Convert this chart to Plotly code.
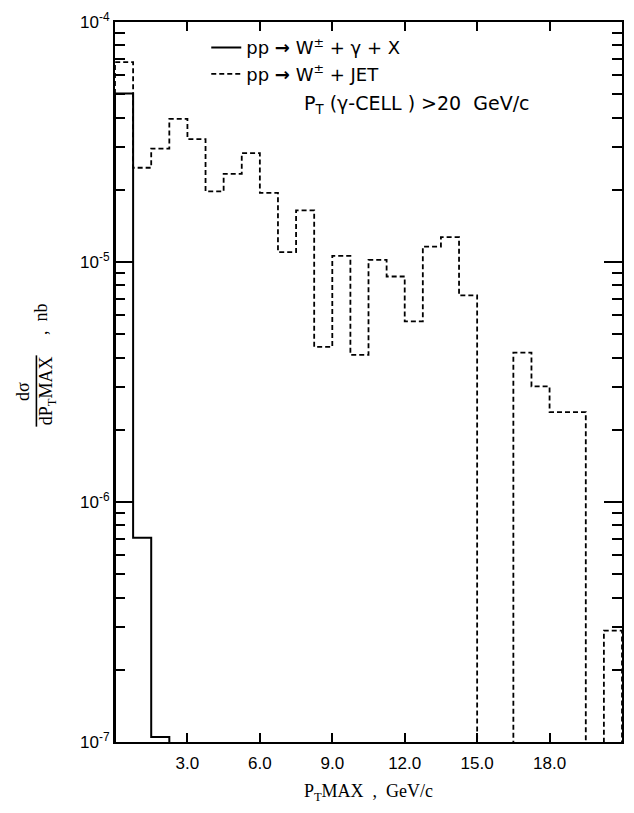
import numpy as np
import plotly.graph_objects as go

# Histogram binning in P_T MAX (GeV/c)
BIN_WIDTH = 0.75
N_BINS = 28
bin_edges = np.round(np.arange(N_BINS + 1) * BIN_WIDTH, 4)

# dσ/dP_T MAX (nb) per bin; 0 means an empty bin
w_gamma_x = [5.03e-5, 7.1e-7, 1.05e-7] + [0.0] * 25
w_jet = [6.8e-5, 2.47e-5, 2.97e-5, 3.95e-5, 3.25e-5, 1.97e-5, 2.33e-5,
         2.84e-5, 1.94e-5, 1.10e-5, 1.64e-5, 4.43e-6, 1.06e-5, 4.1e-6,
         1.02e-5, 8.7e-6, 5.66e-6, 1.16e-5, 1.27e-5, 7.26e-6, 0.0, 0.0,
         4.19e-6, 3.03e-6, 2.37e-6, 2.37e-6, 0.0, 2.91e-7]

x_ticks = [3.0, 6.0, 9.0, 12.0, 15.0, 18.0]
x_tick_text = ["3.0", "6.0", "9.0", "12.0", "15.0", "18.0"]
y_ticks = [1e-7, 1e-6, 1e-5, 1e-4]
y_tick_text = ["10<sup>-7</sup>", "10<sup>-6</sup>", "10<sup>-5</sup>", "10<sup>-4</sup>"]
y_minor = [m * 10.0 ** e for e in (-7, -6, -5) for m in range(2, 10)]

FLOOR = 1e-9  # empty bins are drawn below the visible range (clipped)


def step_xy(values):
    ys = [FLOOR] + [v if v > 0 else FLOOR for v in values] + [FLOOR]
    xs = [bin_edges[0]] + list(bin_edges)
    return xs, ys


SANS = "DejaVu Sans"
TICK = "Liberation Sans"
SERIF = "Liberation Serif"
ARROW = "<b>\u2192</b>"

fig = go.Figure()
xs, ys = step_xy(w_gamma_x)
fig.add_trace(go.Scatter(x=xs, y=ys, mode="lines", line_shape="hv",
                         line=dict(color="black", width=2),
                         name=f"pp {ARROW} W<sup>\u00b1</sup> + \u03b3 + X"))
xs, ys = step_xy(w_jet)
fig.add_trace(go.Scatter(x=xs, y=ys, mode="lines", line_shape="hv",
                         line=dict(color="black", width=1.8, dash="5px,3px"),
                         name=f"pp {ARROW} W<sup>\u00b1</sup> + JET"))

axis_common = dict(showline=True, linecolor="black", linewidth=2, mirror="ticks",
                   ticks="inside", tickcolor="black", showgrid=False, zeroline=False)

fig.update_xaxes(range=[0, 21], tickvals=x_ticks, ticktext=x_tick_text,
                 ticklen=9, tickwidth=1.5, ticklabelstandoff=5,
                 tickfont=dict(family=TICK, size=17, color="black"),
                 title=dict(text="P<sub>T</sub>MAX  ,  GeV/c",
                            font=dict(family=SERIF, size=18, color="black"),
                            standoff=12),
                 **axis_common)
fig.update_yaxes(type="log", range=[-7, -4], tickvals=y_ticks, ticktext=y_tick_text,
                 ticklen=18, tickwidth=2,
                 tickfont=dict(family=TICK, size=17, color="black"),
                 minor=dict(tickmode="array", tickvals=y_minor, ticks="inside",
                            ticklen=10, tickwidth=1.5, tickcolor="black", showgrid=False),
                 **axis_common)

# y-axis title drawn as a rotated fraction
title_font = dict(family=SERIF, size=18, color="black")
fig.add_annotation(text="d\u03c3", xref="paper", yref="paper", x=-0.18, y=0.487,
                   xanchor="center", yanchor="middle", textangle=-90,
                   showarrow=False, font=title_font)
fig.add_shape(type="line", xref="paper", yref="paper", x0=-0.155, x1=-0.155,
              y0=0.438, y1=0.537, line=dict(color="black", width=1.6))
fig.add_annotation(text="dP<sub>T</sub>MAX", xref="paper", yref="paper", x=-0.133, y=0.488,
                   xanchor="center", yanchor="middle", textangle=-90,
                   showarrow=False, font=title_font)
fig.add_annotation(text=",  nb", xref="paper", yref="paper", x=-0.147, y=0.588,
                   xanchor="center", yanchor="middle", textangle=-90,
                   showarrow=False, font=title_font)

# cut annotation below the legend
fig.add_annotation(text="P<sub>T</sub> (\u03b3-CELL ) >20  GeV/c", xref="paper", yref="paper",
                   x=0.369, y=0.886, xanchor="left", yanchor="middle", showarrow=False,
                   font=dict(family=SANS, size=19, color="black"))

fig.update_layout(
    width=634, height=813,
    margin=dict(l=115, r=10, t=17, b=71),
    plot_bgcolor="white", paper_bgcolor="white",
    showlegend=True,
    legend=dict(x=0.18, y=0.99, xanchor="left", yanchor="top",
                bgcolor="rgba(0,0,0,0)", borderwidth=0,
                font=dict(family=SANS, size=18, color="black"),
                itemwidth=30),
)

fig.write_html("out.html")
